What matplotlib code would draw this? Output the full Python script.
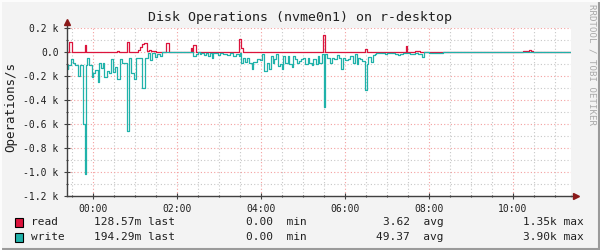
import matplotlib
matplotlib.use('Agg')
import matplotlib.pyplot as plt
from matplotlib.lines import Line2D
from matplotlib.patches import Rectangle

plt.rcParams['font.family'] = 'DejaVu Sans Mono'

# step data: (minutes after 00:00, ops/s) - value holds until next entry
read_steps = [(-37, 0), (-34, 83), (-30, 0), (-12, 55), (-10, 0), (35, 8), (37, 0),
              (49, 83), (52, 0), (64, 20), (67, 45), (70, 70), (73, 75), (77, 8),
              (80, 15), (83, 5), (86, 12), (90, 0), (104, 78), (108, 0), (140, 35),
              (141, 0), (143, 58), (147, 0), (209, 105), (212, 30), (215, 0),
              (329, 140), (331, 0), (389, 22), (392, 0), (447, 50), (449, 0),
              (460, 5), (467, 0), (614, 5), (619, 12), (623, 18), (626, 10),
              (628, 0), (683, 0)]

write_steps = [(-37, -120), (-36, -145), (-35, -108), (-31, -61), (-29, -94), (-26, -108),
               (-21, -200), (-18, -108), (-14, -603), (-11, -1019), (-10, -108), (-8, -53),
               (-6, -108), (-2, -211), (0, -178), (3, -150), (7, -247), (9, -94),
               (11, -136), (14, -94), (16, -211), (20, -158), (23, -178), (26, -61),
               (28, -164), (31, -122), (34, -225), (38, -61), (41, -94), (49, -656),
               (52, -53), (55, -178), (58, -228), (61, -53), (70, -303), (74, -50),
               (78, -10), (81, -67), (85, -10), (88, -42), (92, -15), (96, -33), (98, 0),
               (143, -33), (147, -19), (150, -3), (153, -19), (155, -6), (158, -28),
               (161, -10), (164, -33), (167, -10), (170, -47), (172, -6), (177, -10),
               (179, -28), (181, -6), (186, -19), (191, -28), (196, -6), (200, -33),
               (204, -19), (208, -33), (210, -5), (211, -89), (215, -47), (217, -83),
               (220, -47), (223, -89), (227, -144), (229, -83), (234, -67), (235, -61),
               (239, -67), (241, -19), (245, -158), (248, -94), (251, -144), (254, -33),
               (257, -89), (259, -61), (262, -19), (265, -117), (267, -103), (270, -144),
               (272, -33), (275, -89), (278, -33), (280, -103), (284, -122), (286, -33),
               (289, -61), (292, -89), (295, -75), (297, -56), (300, -47), (303, -103),
               (307, -47), (309, -89), (313, -111), (315, -61), (318, -103), (321, -33),
               (323, -89), (327, -19), (330, -461), (332, -19), (335, -47), (339, -89),
               (341, -47), (345, -61), (348, -28), (352, -47), (354, -144), (357, -47),
               (360, -67), (364, -61), (367, -33), (371, -75), (372, -89), (375, -19),
               (377, -103), (379, -47), (381, -56), (385, -75), (389, -317), (392, -103),
               (393, -39), (397, -83), (400, -28), (403, -19), (405, -5), (415, -10),
               (417, -19), (420, -10), (427, -5), (431, -14), (436, -28), (439, -19),
               (443, -5), (448, -10), (453, -19), (460, -5), (465, -19), (470, -42),
               (473, 0), (480, -5), (500, 0), (683, 0)]

x_ticks = [0, 120, 240, 360, 480, 600]
x_labels = ['00:00', '02:00', '04:00', '06:00', '08:00', '10:00']
y_ticks = [200, 0, -200, -400, -600, -800, -1000, -1200]
y_labels = ['0.2 k', '0.0', '-0.2 k', '-0.4 k', '-0.6 k', '-0.8 k', '-1.0 k', '-1.2 k']

legend_rows = [
    ('read', 'crimson', '128.57m last', '0.00  min', '3.62  avg', '1.35k max'),
    ('write', 'lightseagreen', '194.29m last', '0.00  min', '49.37  avg', '3.90k max'),
]

W, H = 600, 250
BG = '#f3f3f3'
AXC = '#404040'


def fx(x):
    return x / W


def fy(y):
    return 1 - y / H


fig = plt.figure(figsize=(6, 2.5), dpi=100, facecolor=BG)
ax = fig.add_axes([fx(67), fy(196), fx(571) - fx(67), fy(28) - fy(196)])
ax.set_facecolor('white')

rt, rv = zip(*read_steps)
wt, wv = zip(*write_steps)
ax.step(rt, rv, where='post', color='crimson', lw=0.9, zorder=4)
ax.step(wt, wv, where='post', color='lightseagreen', lw=0.9, zorder=5)

ax.set_xlim(-37, 683)
ax.set_ylim(-1200, 200)

ax.set_xticks(x_ticks)
ax.set_xticklabels(x_labels)
ax.set_xticks(range(-30, 683, 30), minor=True)
ax.set_yticks(y_ticks)
ax.set_yticklabels(y_labels)
ax.set_yticks(range(-1200, 201, 100), minor=True)

ax.grid(which='minor', color='#c8c8c8', lw=0.8, linestyle=(0, (1, 2)), zorder=1)
ax.grid(which='major', color='#f4a0a0', lw=0.8, linestyle=(0, (1, 2)), zorder=2)
ax.set_axisbelow(True)

for s in ['top', 'right']:
    ax.spines[s].set_visible(False)
for s in ['left', 'bottom']:
    ax.spines[s].set_color(AXC)
    ax.spines[s].set_linewidth(1)
    ax.spines[s].set_zorder(6)

ax.tick_params(axis='both', which='both', color=AXC, width=0.8, labelsize=7,
               labelcolor='#202020', direction='inout')
ax.tick_params(axis='both', which='major', length=4, pad=4)
ax.tick_params(axis='both', which='minor', length=2)

# axis arrows
ax.add_line(Line2D([0, 0], [1, 1.035], transform=ax.transAxes, color=AXC, lw=1, clip_on=False))
ax.plot([0], [1.035], marker='^', ms=4, color='#8b1a1a', transform=ax.transAxes, clip_on=False)
ax.add_line(Line2D([1, 1.01], [0, 0], transform=ax.transAxes, color=AXC, lw=1, clip_on=False))
ax.plot([1.01], [0], marker='>', ms=4, color='#8b1a1a', transform=ax.transAxes, clip_on=False)

fig.text(fx(300), fy(18), 'Disk Operations (nvme0n1) on r-desktop', ha='center', va='center',
         fontsize=9.5, color='#202020')
fig.text(fx(11), fy(107), 'Operations/s', rotation=90, ha='center', va='center',
         fontsize=9, color='#202020')
fig.text(fx(592), fy(4), 'RRDTOOL / TOBI OETIKER', rotation=270, ha='center', va='top',
         fontsize=6.6, color='#aaaaaa')

for i, (name, col, last, mn, avg, mx) in enumerate(legend_rows):
    yc = 222 + 15 * i
    fig.add_artist(Rectangle((fx(15), fy(yc + 4.5)), 8 / W, 9 / H, transform=fig.transFigure,
                             facecolor=col, edgecolor='black', lw=0.8))
    fig.text(fx(31), fy(yc), name, ha='left', va='center', fontsize=8, color='#202020')
    fig.text(fx(175), fy(yc), last, ha='right', va='center', fontsize=8, color='#202020')
    fig.text(fx(307), fy(yc), mn, ha='right', va='center', fontsize=8, color='#202020')
    fig.text(fx(444), fy(yc), avg, ha='right', va='center', fontsize=8, color='#202020')
    fig.text(fx(584), fy(yc), mx, ha='right', va='center', fontsize=8, color='#202020')

# frame shading like rrdtool
fig.add_artist(Line2D([0, 1], [fy(249), fy(249)], transform=fig.transFigure, color='#9a9a9a', lw=1.5))
fig.add_artist(Line2D([fx(599), fx(599)], [0, 1], transform=fig.transFigure, color='#9a9a9a', lw=1.5))
fig.add_artist(Line2D([0, 1], [fy(0.5), fy(0.5)], transform=fig.transFigure, color='#fcfcfc', lw=1.5))
fig.add_artist(Line2D([fx(0.5), fx(0.5)], [0, 1], transform=fig.transFigure, color='#fcfcfc', lw=1.5))

fig.savefig('out.png', dpi=100, facecolor=BG)
